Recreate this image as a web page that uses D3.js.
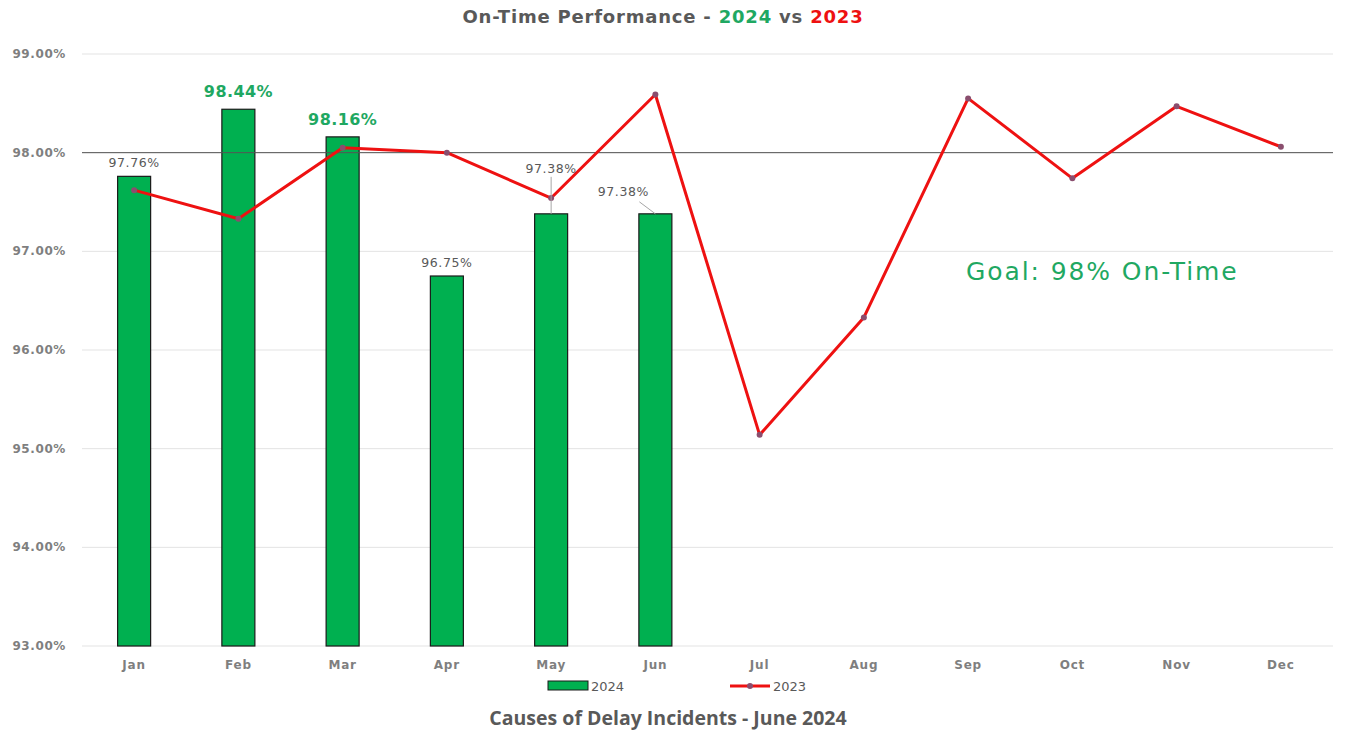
<!DOCTYPE html>
<html>
<head>
<meta charset="utf-8">
<script src="https://cdn.jsdelivr.net/npm/d3@7"></script>
<style>
  body { margin: 0; background: #fff; }
  svg { display: block; }
</style>
</head>
<body>
<div id="chart"></div>
<script>
const months = ['Jan', 'Feb', 'Mar', 'Apr', 'May', 'Jun', 'Jul', 'Aug', 'Sep', 'Oct', 'Nov', 'Dec']
const values2024 = [97.76, 98.44, 98.16, 96.75, 97.38, 97.38]
const values2023 = [97.62, 97.33, 98.05, 98.00, 97.54, 98.59, 95.14, 96.33, 98.55, 97.74, 98.47, 98.06]
const yTicks = [93, 94, 95, 96, 97, 98, 99]
const goal = 98

const width = 1346
const height = 732
const margin = { top: 54, right: 13, bottom: 86, left: 82 }

const green = '#00b050'
const red = '#ee1111'
const gray = '#595959'
const font = "'DejaVu Sans', Verdana, sans-serif"

const svg = d3.select('#chart').append('svg')
  .attr('width', width)
  .attr('height', height)
  .style('font-family', font)

const x = d3.scaleBand()
  .domain(months)
  .range([margin.left, width - margin.right])
  .paddingInner(0)
  .paddingOuter(0)

const y = d3.scaleLinear()
  .domain([93, 99])
  .range([height - margin.bottom, margin.top])

// gridlines
svg.append('g')
  .selectAll('line')
  .data(yTicks)
  .join('line')
  .attr('x1', margin.left)
  .attr('x2', width - margin.right)
  .attr('y1', d => y(d))
  .attr('y2', d => y(d))
  .attr('stroke', '#e3e3e3')
  .attr('stroke-width', 1)

// y axis labels
svg.append('g')
  .selectAll('text')
  .data(yTicks)
  .join('text')
  .attr('x', 66)
  .attr('y', d => y(d) + 4)
  .attr('text-anchor', 'end')
  .attr('font-size', 12)
  .attr('letter-spacing', 0.6)
  .attr('font-weight', 'bold')
  .attr('fill', '#7f7f7f')
  .text(d => d.toFixed(2) + '%')

// x axis labels
svg.append('g')
  .selectAll('text')
  .data(months)
  .join('text')
  .attr('x', d => x(d) + x.bandwidth() / 2)
  .attr('y', height - margin.bottom + 23)
  .attr('text-anchor', 'middle')
  .attr('font-size', 12)
  .attr('letter-spacing', 0.8)
  .attr('font-weight', 'bold')
  .attr('fill', '#7f7f7f')
  .text(d => d)

// bars 2024
const barW = 33
svg.append('g')
  .selectAll('rect')
  .data(values2024)
  .join('rect')
  .attr('x', (d, i) => x(months[i]) + x.bandwidth() / 2 - barW / 2)
  .attr('y', d => y(d))
  .attr('width', barW)
  .attr('height', d => y(93) - y(d))
  .attr('fill', green)
  .attr('stroke', '#1a1a1a')
  .attr('stroke-width', 1.2)

// goal line
svg.append('line')
  .attr('x1', margin.left)
  .attr('x2', width - margin.right)
  .attr('y1', y(goal))
  .attr('y2', y(goal))
  .attr('stroke', '#555')
  .attr('stroke-width', 1)

// 2023 line
const line = d3.line()
  .x((d, i) => x(months[i]) + x.bandwidth() / 2)
  .y(d => y(d))

svg.append('path')
  .datum(values2023)
  .attr('d', line)
  .attr('fill', 'none')
  .attr('stroke', red)
  .attr('stroke-width', 3)
  .attr('stroke-linejoin', 'round')

svg.append('g')
  .selectAll('circle')
  .data(values2023)
  .join('circle')
  .attr('cx', (d, i) => x(months[i]) + x.bandwidth() / 2)
  .attr('cy', d => y(d))
  .attr('r', 3)
  .attr('fill', '#8a4e6e')

// bar labels: offset above the bar top, big green ones for the best months
const labelStyle = [
  { dx: 0, dy: -9, big: false },
  { dx: 0, dy: -12, big: true },
  { dx: 0, dy: -12, big: true },
  { dx: 0, dy: -9, big: false },
  { dx: 0, dy: -41, big: false, leader: 'v' },
  { dx: -32, dy: -18, big: false, leader: 'd' }
]

const labels = svg.append('g')
values2024.forEach((v, i) => {
  const s = labelStyle[i]
  const cx = x(months[i]) + x.bandwidth() / 2
  const ty = y(v) + s.dy
  labels.append('text')
    .attr('x', cx + s.dx)
    .attr('y', ty)
    .attr('text-anchor', 'middle')
    .attr('font-size', s.big ? 16 : 12.5)
    .attr('letter-spacing', s.big ? 0.4 : 0.6)
    .attr('font-weight', s.big ? 'bold' : 'normal')
    .attr('fill', s.big ? '#1fa862' : gray)
    .text(v.toFixed(2) + '%')
  if (s.leader === 'v') {
    labels.append('line')
      .attr('x1', cx).attr('x2', cx)
      .attr('y1', ty + 4).attr('y2', y(v))
      .attr('stroke', '#a6a6a6').attr('stroke-width', 1)
  } else if (s.leader === 'd') {
    labels.append('line')
      .attr('x1', cx - 16).attr('x2', cx)
      .attr('y1', ty + 6).attr('y2', y(v))
      .attr('stroke', '#a6a6a6').attr('stroke-width', 1)
  }
})

// goal annotation
svg.append('text')
  .attr('x', 966)
  .attr('y', 280)
  .attr('font-size', 25)
  .attr('letter-spacing', 1.9)
  .attr('fill', '#1fa862')
  .text('Goal: 98% On-Time')

// title
const title = svg.append('text')
  .attr('x', 663)
  .attr('y', 23)
  .attr('text-anchor', 'middle')
  .attr('font-size', 18)
  .attr('letter-spacing', 0.8)
  .attr('font-weight', 'bold')
  .attr('fill', gray)
title.append('tspan').text('On-Time Performance - ')
title.append('tspan').attr('fill', '#1fa862').text('2024')
title.append('tspan').text(' vs ')
title.append('tspan').attr('fill', red).text('2023')

// legend
const legY = 686
svg.append('rect')
  .attr('x', 548).attr('y', legY - 5)
  .attr('width', 40).attr('height', 9)
  .attr('fill', green)
  .attr('stroke', '#1a1a1a')
svg.append('text')
  .attr('x', 591).attr('y', legY + 5)
  .attr('font-size', 13)
  .attr('fill', gray)
  .text('2024')
svg.append('line')
  .attr('x1', 730).attr('x2', 770)
  .attr('y1', legY).attr('y2', legY)
  .attr('stroke', red).attr('stroke-width', 3)
svg.append('circle')
  .attr('cx', 750).attr('cy', legY).attr('r', 3)
  .attr('fill', '#8a4e6e')
svg.append('text')
  .attr('x', 773).attr('y', legY + 5)
  .attr('font-size', 13)
  .attr('fill', gray)
  .text('2023')

// footer heading
svg.append('text')
  .attr('x', 668)
  .attr('y', 725)
  .attr('text-anchor', 'middle')
  .attr('font-size', 19.5)
  .attr('font-weight', 'bold')
  .attr('font-family', "'Open Sans', sans-serif")
  .attr('fill', gray)
  .text('Causes of Delay Incidents - June 2024')
</script>
</body>
</html>
